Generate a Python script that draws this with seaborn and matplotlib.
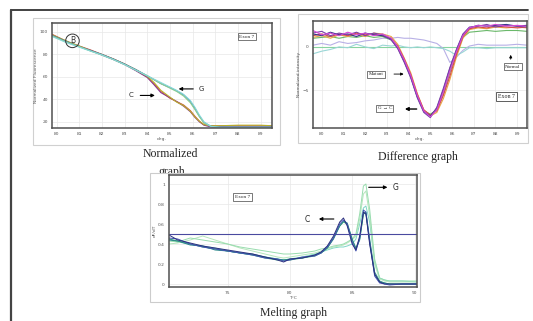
"""
Recreation of the HRM exon 7 figure: normalized, difference and melting graphs.
"""

import pandas as pd
import matplotlib.pyplot as plt
from matplotlib.patches import Rectangle
from matplotlib.lines import Line2D
import seaborn as sns

# ---- normalized graph data ----
norm_temp = [79.8, 80.5, 81, 81.5, 82, 82.5, 83, 83.5, 84, 84.3, 84.6, 85, 85.3,
             85.6, 85.9, 86.1, 86.3, 86.5, 86.8, 87.2, 88, 89, 89.5]
norm_c_red = [98, 91, 87.5, 84, 80, 76, 71.5, 66, 60, 54, 47, 41, 38, 35, 30, 25,
              20.5, 17.5, 16.5, 16.5, 16.5, 16.5, 16.5]
norm_c_purple = [97, 91, 87, 83.5, 79.5, 75.5, 71, 65.5, 59.5, 53, 46, 41.5, 38,
                 34, 29, 24, 20, 17, 15.5, 15, 15, 15, 15]
norm_c_olive = [97.5, 91.5, 87.5, 83.5, 80, 76, 71.5, 66.5, 60.5, 55, 48, 42, 37.5,
                34.5, 29.5, 24.5, 20.5, 17.5, 16.5, 16.5, 17, 17, 16.5]
norm_g_cyan = [96, 90, 86.5, 83, 79.5, 75.5, 71, 66, 61, 58, 55, 51, 48, 44.5, 39,
               33, 26, 20, 16, 15, 14.5, 14.5, 14.5]
norm_g_green = [96.5, 90.5, 87, 83, 79.5, 75.5, 71, 66, 61, 57.5, 54, 50, 47, 43,
                37, 31, 24.5, 19, 16, 15, 15, 15, 15]
norm_g_blue = [97, 91, 87, 83.5, 80, 76, 71.5, 66.5, 61, 57.5, 54, 50.5, 47.5, 44,
               38, 32, 25, 19.5, 16, 15.5, 15.5, 15.5, 15.5]

# ---- difference graph data ----
diff_temp = [79.6, 80, 80.4, 80.8, 81.2, 81.6, 82, 82.4, 82.8, 83.2, 83.5, 83.8,
             84.1, 84.4, 84.7, 85.0, 85.3, 85.6, 85.9, 86.2, 86.5, 86.8, 87.2,
             87.6, 88, 88.5, 89, 89.45]
diff_mut_magenta = [1.9, 1.4, 1.6, 1.3, 1.7, 1.4, 1.6, 1.3, 1.5, 1.0, 0.0, -1.5,
                    -3.3, -5.6, -7.4, -8.1, -7.3, -5.2, -2.8, -0.6, 1.3, 2.2, 2.5,
                    2.4, 2.6, 2.4, 2.5, 2.4]
diff_mut_purple = [1.6, 1.8, 1.3, 1.6, 1.4, 1.7, 1.3, 1.6, 1.4, 0.8, -0.2, -1.8,
                   -3.6, -5.9, -7.6, -8.2, -7.0, -4.8, -2.4, -0.3, 1.5, 2.3, 2.4,
                   2.6, 2.3, 2.5, 2.4, 2.3]
diff_mut_navy = [1.5, 1.3, 1.7, 1.4, 1.5, 1.2, 1.6, 1.4, 1.3, 0.9, -0.1, -1.7,
                 -3.5, -5.8, -7.5, -8.0, -7.1, -5.0, -2.5, -0.4, 1.4, 2.2, 2.5,
                 2.4, 2.5, 2.6, 2.4, 2.5]
diff_mut_orange = [1.1, 1.3, 1.0, 1.4, 1.2, 1.5, 1.2, 1.6, 1.5, 1.2, 0.3, -1.3,
                   -3.0, -5.4, -7.3, -8.0, -7.6, -6.0, -3.8, -1.2, 1.0, 2.0, 2.2,
                   2.1, 2.3, 2.2, 2.3, 2.2]
diff_mut_green = [1.0, 1.1, 1.2, 1.0, 1.2, 1.1, 1.3, 1.1, 1.2, 0.8, -0.1, -1.6,
                  -3.4, -5.7, -7.4, -7.8, -7.3, -5.5, -3.0, -0.8, 1.1, 1.7, 1.8,
                  1.9, 1.8, 1.9, 1.9, 1.8]
diff_mut_red = [1.3, 1.5, 1.2, 1.5, 1.3, 1.6, 1.4, 1.5, 1.3, 1.0, 0.1, -1.4,
                -3.2, -5.5, -7.3, -7.9, -7.4, -5.6, -3.4, -0.9, 1.2, 2.1, 2.3,
                2.2, 2.4, 2.3, 2.2, 2.3]
diff_norm_lavender = [0.2, 0.4, 0.2, 0.6, 0.4, 0.5, 0.7, 0.8, 1.0, 1.0, 1.1, 1.0,
                      1.0, 0.9, 0.8, 0.6, 0.4, -0.2, -1.8, -1.2, -0.4, 0.1, 0.3,
                      0.2, 0.2, 0.2, 0.3, 0.2]
diff_norm_cyan = [-0.8, -0.5, -0.3, 0.0, -0.1, 0.3, 0.0, -0.2, 0.2, 0.1, 0.2, 0.0,
                  -0.1, 0.0, -0.1, 0.0, -0.1, -0.2, -0.5, -1.0, -0.6, -0.1, -0.1,
                  -0.2, -0.1, -0.1, -0.1, -0.1]
diff_norm_flat = [0.0, 0.0, 0.0, 0.0, 0.0, 0.0, 0.0, 0.0, 0.0, 0.0, 0.0, 0.0, 0.0,
                  0.0, 0.0, 0.0, 0.0, 0.0, 0.0, 0.0, 0.0, 0.0, 0.0, 0.0, 0.0, 0.0,
                  0.0, 0.0]

# ---- melting graph data ----
melt_temp = [70.3, 71, 72, 73, 74, 75, 76, 77, 78, 79, 79.5, 80, 81, 82, 82.5, 83,
             83.5, 84, 84.3, 84.6, 85, 85.3, 85.6, 85.9, 86.1, 86.4, 86.8, 87.2,
             87.6, 88, 89, 90.2]
melt_navy = [0.49, 0.44, 0.41, 0.38, 0.36, 0.34, 0.32, 0.30, 0.27, 0.24, 0.22,
             0.25, 0.26, 0.29, 0.32, 0.38, 0.48, 0.62, 0.66, 0.58, 0.40, 0.34,
             0.48, 0.72, 0.70, 0.40, 0.10, 0.02, 0.0, 0.0, 0.0, 0.0]
melt_royal = [0.46, 0.45, 0.40, 0.37, 0.35, 0.33, 0.31, 0.29, 0.26, 0.25, 0.23,
              0.24, 0.27, 0.28, 0.31, 0.37, 0.46, 0.60, 0.64, 0.60, 0.42, 0.33,
              0.46, 0.74, 0.72, 0.42, 0.08, 0.01, 0.0, -0.01, 0.0, 0.0]
melt_teal = [0.44, 0.43, 0.39, 0.38, 0.34, 0.33, 0.31, 0.30, 0.27, 0.25, 0.24,
             0.25, 0.26, 0.29, 0.31, 0.36, 0.45, 0.58, 0.63, 0.61, 0.45, 0.35,
             0.44, 0.70, 0.72, 0.45, 0.12, 0.03, 0.01, 0.0, 0.0, 0.0]
melt_seagreen = [0.45, 0.43, 0.40, 0.37, 0.35, 0.33, 0.31, 0.29, 0.26, 0.24, 0.24,
                 0.24, 0.26, 0.28, 0.31, 0.36, 0.46, 0.58, 0.62, 0.60, 0.44, 0.36,
                 0.45, 0.70, 0.71, 0.43, 0.10, 0.02, 0.01, 0.0, 0.0, 0.0]
melt_lightgreen = [0.43, 0.42, 0.46, 0.44, 0.42, 0.40, 0.37, 0.35, 0.33, 0.31,
                   0.30, 0.30, 0.31, 0.33, 0.35, 0.36, 0.38, 0.39, 0.40, 0.42,
                   0.45, 0.50, 0.70, 0.98, 1.0, 0.75, 0.25, 0.06, 0.04, 0.03,
                   0.03, 0.03]
melt_palegreen = [0.40, 0.41, 0.44, 0.48, 0.44, 0.40, 0.36, 0.33, 0.30, 0.27,
                  0.26, 0.27, 0.29, 0.31, 0.33, 0.35, 0.37, 0.38, 0.39, 0.41,
                  0.44, 0.48, 0.65, 0.90, 0.93, 0.68, 0.20, 0.05, 0.03, 0.02,
                  0.02, 0.02]
melt_aqua = [0.45, 0.42, 0.40, 0.38, 0.36, 0.33, 0.31, 0.29, 0.27, 0.25, 0.24,
             0.25, 0.27, 0.30, 0.32, 0.34, 0.36, 0.37, 0.37, 0.38, 0.40, 0.45,
             0.60, 0.76, 0.78, 0.62, 0.22, 0.06, 0.04, 0.03, 0.03, 0.02]

W, H = 533, 321


def box(left, top, right, bottom):
    """Pixel box -> figure fraction rect."""
    return [left / W, 1 - bottom / H, (right - left) / W, (bottom - top) / H]


def long_frame(temp, series):
    rows = []
    for name, vals in series.items():
        for t, v in zip(temp, vals):
            rows.append({"temp": t, "value": v, "trace": name})
    return pd.DataFrame(rows)


def style_axes(ax):
    ax.set_facecolor("white")
    ax.grid(True, color="#e8e8e8", linewidth=0.5)
    for s in ax.spines.values():
        s.set_color("#505050")
        s.set_linewidth(1.1)
    ax.tick_params(labelsize=3.2, colors="#555555", length=1.5, width=0.4, pad=1.5)


sns.set_theme(style="whitegrid")
plt.rcParams["font.family"] = ["DejaVu Sans"]

fig = plt.figure(figsize=(W / 100, H / 100), dpi=100)
fig.patch.set_facecolor("white")

# image frames behind the two top graphs
for l, t, r, b in [(33, 18, 280, 145), (298, 14, 528, 143)]:
    fig.patches.append(Rectangle((l / W, 1 - b / H), (r - l) / W, (b - t) / H,
                                 transform=fig.transFigure, facecolor="white",
                                 edgecolor="#d0d0d0", linewidth=0.8, zorder=-2))

# outer frame lines
fig.lines.append(Line2D([11 / W, 528 / W], [1 - 10 / H, 1 - 10 / H],
                        transform=fig.transFigure, color="#333333", linewidth=1.3))
fig.lines.append(Line2D([11 / W, 11 / W], [0, 1 - 10 / H],
                        transform=fig.transFigure, color="#444444", linewidth=1.6))

# ---- normalized ----
ax1 = fig.add_axes(box(52, 23, 272, 128))
ax1.set_zorder(1)
norm_df = long_frame(norm_temp, {
    "c_red": norm_c_red, "c_purple": norm_c_purple, "c_olive": norm_c_olive,
    "g_blue": norm_g_blue, "g_green": norm_g_green, "g_cyan": norm_g_cyan})
sns.lineplot(data=norm_df, x="temp", y="value", hue="trace", ax=ax1, linewidth=0.8,
             palette={"c_red": "#d2504a", "c_purple": "#8a3a8c", "c_olive": "#b8b02a",
                      "g_blue": "#4a72b8", "g_green": "#8ccf8c", "g_cyan": "#86d8d8"},
             legend=False)
ax1.set_xlim(79.8, 89.5)
ax1.set_ylim(14.5, 108)
ax1.set_xticks(range(80, 90))
ax1.set_yticks([20, 40, 60, 80, 100])
ax1.set_xlabel("deg.", fontsize=3.2, labelpad=0.5, color="#555555")
ax1.set_ylabel("Normalized Fluorescence", fontsize=3.2, labelpad=1, color="#555555")
style_axes(ax1)
ax1.text(0.093, 0.83, "B", transform=ax1.transAxes, fontsize=5.5, ha="center",
         va="center", color="#333333",
         bbox=dict(boxstyle="circle,pad=0.3", facecolor="none",
                   edgecolor="#333333", linewidth=0.7))
ax1.text(0.885, 0.87, "Exon 7", transform=ax1.transAxes, fontsize=3.8,
         family="Liberation Serif", ha="center", va="center",
         bbox=dict(boxstyle="square,pad=0.3", facecolor="white", edgecolor="#444444",
                   linewidth=0.5))
ax1.annotate("", xy=(84.46, 43.5), xytext=(83.57, 43.5),
             arrowprops=dict(arrowstyle="-|>", color="black", lw=0.8,
                             mutation_scale=5))
ax1.text(83.3, 43.5, "C", fontsize=5, ha="center", va="center")
ax1.annotate("", xy=(85.26, 49.3), xytext=(86.15, 49.3),
             arrowprops=dict(arrowstyle="-|>", color="black", lw=0.8,
                             mutation_scale=5))
ax1.text(86.4, 49.3, "G", fontsize=5, ha="center", va="center")

fig.text(170 / W, 1 - 154 / H, "Normalized", fontsize=8.5, family="Liberation Serif",
         ha="center", va="center")
fig.text(172 / W, 1 - 172 / H, "graph", fontsize=8.5, family="Liberation Serif",
         ha="center", va="center")

# ---- difference ----
ax2 = fig.add_axes(box(313, 21, 527, 128))
ax2.set_zorder(1)
diff_df = long_frame(diff_temp, {
    "n_flat": diff_norm_flat, "n_lav": diff_norm_lavender, "n_cyan": diff_norm_cyan,
    "m_green": diff_mut_green, "m_orange": diff_mut_orange, "m_red": diff_mut_red,
    "m_navy": diff_mut_navy, "m_purple": diff_mut_purple,
    "m_magenta": diff_mut_magenta})
sns.lineplot(data=diff_df, x="temp", y="value", hue="trace", ax=ax2, linewidth=0.8,
             palette={"n_flat": "#88d4a0", "n_lav": "#b8b0e6", "n_cyan": "#9ad6d6",
                      "m_green": "#6ab86a", "m_orange": "#e8a848", "m_red": "#d84a4a",
                      "m_navy": "#343488", "m_purple": "#7a40a8",
                      "m_magenta": "#d448d4"},
             legend=False)
ax2.set_xlim(79.6, 89.45)
ax2.set_ylim(-9.4, 3.0)
ax2.set_xticks(range(80, 90))
ax2.set_yticks([-5, 0])
ax2.set_xlabel("deg.", fontsize=3.2, labelpad=0.5, color="#555555")
ax2.set_ylabel("Normalized intensity", fontsize=3.2, labelpad=1, color="#555555")
style_axes(ax2)
lbl = dict(fontsize=3.6, family="Liberation Serif", ha="center", va="center",
           bbox=dict(boxstyle="square,pad=0.3", facecolor="white",
                     edgecolor="#444444", linewidth=0.5))
ax2.text(82.5, -3.15, "Mutant", **lbl)
ax2.annotate("", xy=(83.9, -3.15), xytext=(83.2, -3.15),
             arrowprops=dict(arrowstyle="-|>", color="black", lw=0.6,
                             mutation_scale=4))
ax2.text(82.9, -7.1, "G → C", **lbl)
ax2.annotate("", xy=(83.7, -7.2), xytext=(84.5, -7.2),
             arrowprops=dict(arrowstyle="-|>", color="black", lw=1.0,
                             mutation_scale=5))
ax2.text(88.8, -2.3, "Normal", **lbl)
ax2.annotate("", xy=(88.7, -0.6), xytext=(88.7, -1.75),
             arrowprops=dict(arrowstyle="-|>", color="black", lw=0.6,
                             mutation_scale=4))
ax2.text(88.5, -5.8, "Exon 7", fontsize=4.2, family="Liberation Serif", ha="center",
         va="center", bbox=dict(boxstyle="square,pad=0.35", facecolor="white",
                                edgecolor="#444444", linewidth=0.6))
fig.text(418 / W, 1 - 157 / H, "Difference graph", fontsize=8.5,
         family="Liberation Serif", ha="center", va="center")

# ---- melting ----
fig.patches.append(Rectangle((150 / W, 1 - 302 / H), 270 / W, 129 / H,
                             transform=fig.transFigure, facecolor="white",
                             edgecolor="#cccccc", linewidth=0.8, zorder=5))
ax3 = fig.add_axes(box(169, 175, 417, 287))
ax3.set_zorder(6)
melt_df = long_frame(melt_temp, {
    "aqua": melt_aqua, "palegreen": melt_palegreen, "lightgreen": melt_lightgreen,
    "seagreen": melt_seagreen, "teal": melt_teal, "royal": melt_royal,
    "navy": melt_navy})
sns.lineplot(data=melt_df, x="temp", y="value", hue="trace", ax=ax3, linewidth=0.7,
             palette={"aqua": "#7ed6c6", "palegreen": "#b6e6bc",
                      "lightgreen": "#98dcae", "seagreen": "#3aa67a",
                      "teal": "#2a8888", "royal": "#4454b4", "navy": "#2b2f7f"},
             legend=False)
ax3.axhline(0.5, color="#4a4aa0", linewidth=0.8)
ax3.set_xlim(70.3, 90.2)
ax3.set_ylim(-0.03, 1.09)
ax3.set_xticks([75, 80, 85, 90])
ax3.set_yticks([0, 0.2, 0.4, 0.6, 0.8, 1])
ax3.set_yticklabels(["0", "0.2", "0.4", "0.6", "0.8", "1"])
ax3.set_xlabel("T°C", fontsize=3.2, labelpad=0.3, color="#555555")
ax3.set_ylabel("dF/dT", fontsize=3.2, labelpad=1, color="#555555")
style_axes(ax3)
ax3.text(76.2, 0.87, "Exon 7", fontsize=3.8, family="Liberation Serif", ha="center",
         va="center", bbox=dict(boxstyle="square,pad=0.3", facecolor="white",
                                edgecolor="#444444", linewidth=0.5))
ax3.annotate("", xy=(82.1, 0.65), xytext=(83.75, 0.65),
             arrowprops=dict(arrowstyle="-|>", color="black", lw=0.8,
                             mutation_scale=5))
ax3.text(81.4, 0.645, "C", fontsize=5.5, ha="center", va="center")
ax3.annotate("", xy=(88.05, 0.967), xytext=(86.1, 0.967),
             arrowprops=dict(arrowstyle="-|>", color="black", lw=0.8,
                             mutation_scale=5))
ax3.text(88.45, 0.96, "G", fontsize=5.5, ha="center", va="center")
t = fig.text(293 / W, 1 - 313 / H, "Melting graph", fontsize=8.5,
             family="Liberation Serif", ha="center", va="center")
t.set_zorder(7)

fig.savefig("out.png", dpi=100)
